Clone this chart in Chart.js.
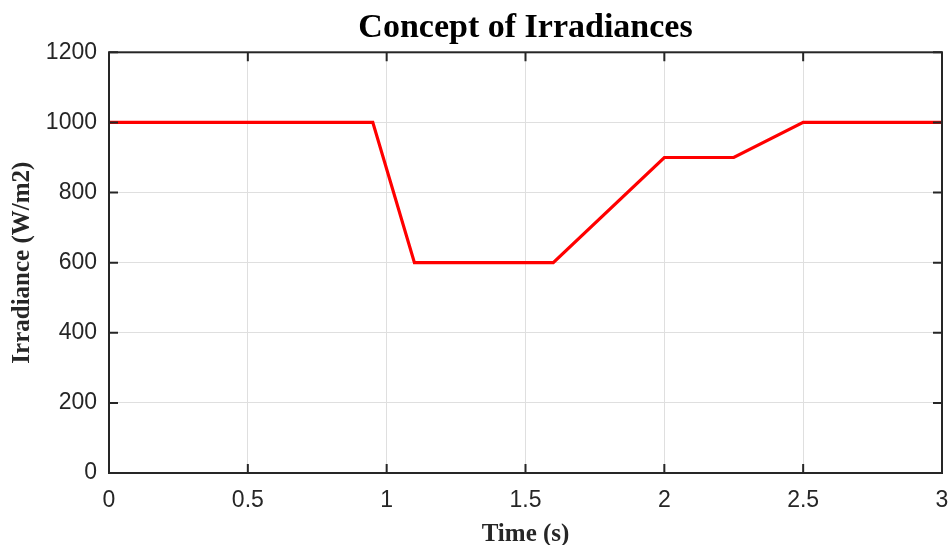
<!DOCTYPE html>
<html lang="en">
<head>
    <meta charset="UTF-8">
    <title>Concept of Irradiances</title>
    <script src="https://cdn.jsdelivr.net/npm/chart.js@4"></script>
    <style>
        body { margin: 0; background: #fff; }
    </style>
</head>
<body>
    <canvas id="grafico1" width="948" height="545"></canvas>

    <script>
        // dados
        const tempo = [0, 0.95, 1.1, 1.6, 2, 2.25, 2.5, 3];
        const irradiancia = [1000, 1000, 600, 600, 900, 900, 1000, 1000];
        const ticksX = [0, 0.5, 1, 1.5, 2, 2.5, 3];
        const ticksY = [0, 200, 400, 600, 800, 1000, 1200];

        const corEixo = '#262626';

        // caixa estilo MATLAB: borda nos 4 lados e ticks para dentro
        const caixa = {
            id: 'caixa',
            afterDraw(chart) {
                const { ctx, chartArea: a, scales: { x, y } } = chart;
                const tam = 9;
                ctx.save();
                ctx.strokeStyle = corEixo;
                ctx.lineWidth = 2;
                ctx.beginPath();
                x.ticks.forEach(t => {
                    const px = x.getPixelForValue(t.value);
                    ctx.moveTo(px, a.bottom); ctx.lineTo(px, a.bottom - tam);
                    ctx.moveTo(px, a.top); ctx.lineTo(px, a.top + tam);
                });
                y.ticks.forEach(t => {
                    const py = y.getPixelForValue(t.value);
                    ctx.moveTo(a.left, py); ctx.lineTo(a.left + tam, py);
                    ctx.moveTo(a.right, py); ctx.lineTo(a.right - tam, py);
                });
                ctx.stroke();
                ctx.strokeRect(a.left, a.top, a.right - a.left, a.bottom - a.top);
                ctx.restore();
            }
        };

        const ctx = document.getElementById('grafico1');

        let grafico1 = new Chart(ctx, {
            type: 'line',
            data: {
                datasets: [{
                    label: 'Irradiance',
                    data: tempo.map((t, i) => ({ x: t, y: irradiancia[i] })),
                    borderColor: '#ff0000',
                    borderWidth: 3.2,
                    pointRadius: 0,
                    tension: 0,
                    fill: false
                }]
            },
            options: {
                responsive: false,
                devicePixelRatio: 1,
                animation: false,
                layout: { padding: { right: 6 } },
                plugins: {
                    legend: { display: false },
                    tooltip: { enabled: false },
                    title: {
                        display: true,
                        text: 'Concept of Irradiances',
                        color: '#000',
                        fullSize: false,
                        font: { family: 'Liberation Serif', size: 34, weight: 'bold', lineHeight: 1.2 },
                        padding: { top: 8, bottom: 3.5 }
                    }
                },
                scales: {
                    x: {
                        type: 'linear',
                        min: 0,
                        max: 3,
                        afterBuildTicks: s => { s.ticks = ticksX.map(v => ({ value: v })); },
                        afterFit: s => { s.height = 72; s.paddingLeft = 0; s.paddingRight = 0; },
                        grid: { color: '#dfdfdf', lineWidth: 1, drawTicks: false },
                        border: { display: false },
                        ticks: {
                            color: corEixo,
                            padding: 14,
                            maxRotation: 0,
                            font: { family: 'Liberation Sans', size: 23 },
                            callback: v => String(v)
                        },
                        title: {
                            display: true,
                            text: 'Time (s)',
                            color: '#262626',
                            font: { family: 'Liberation Serif', size: 25, weight: 'bold', lineHeight: 1 },
                            padding: { top: 0, bottom: -2 }
                        }
                    },
                    y: {
                        min: 0,
                        max: 1200,
                        afterBuildTicks: s => { s.ticks = ticksY.map(v => ({ value: v })); },
                        afterFit: s => { s.width = 109; s.paddingTop = 0; s.paddingBottom = 0; },
                        grid: { color: '#dfdfdf', lineWidth: 1, drawTicks: false },
                        border: { display: false },
                        ticks: {
                            color: corEixo,
                            padding: 12,
                            font: { family: 'Liberation Sans', size: 23 },
                            callback: v => String(v)
                        },
                        title: {
                            display: true,
                            text: 'Irradiance (W/m2)',
                            color: '#262626',
                            font: { family: 'Liberation Serif', size: 25, weight: 'bold', lineHeight: 1 },
                            padding: { top: 10, bottom: 0 }
                        }
                    }
                }
            },
            plugins: [caixa]
        });
    </script>
</body>
</html>
